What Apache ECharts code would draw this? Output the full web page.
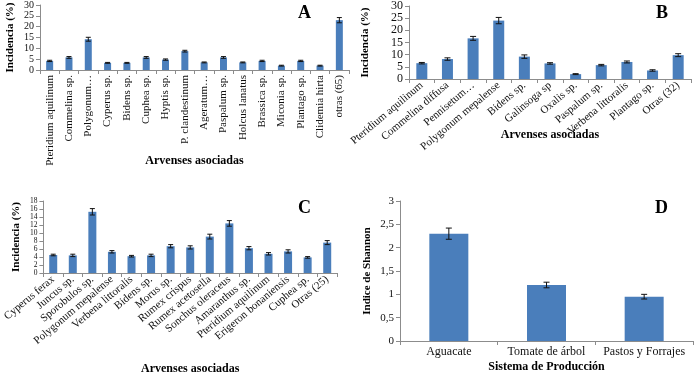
<!DOCTYPE html>
<html>
<head>
<meta charset="utf-8">
<script src="https://cdn.jsdelivr.net/npm/echarts@6/dist/echarts.min.js"></script>
<style>
  html, body { margin: 0; padding: 0; background: #fff; }
  #chart { width: 700px; height: 377px; }
</style>
</head>
<body>
<div id="chart"></div>
<script>
// Panel A
const catsA = ['Pteridium aquilinum', 'Commelina sp.', 'Polygonum…', 'Cyperus sp.', 'Bidens sp.', 'Cuphea sp.',
  'Hyptis sp.', 'P. clandestinum', 'Ageratum…', 'Paspalum sp.', 'Holcus lanatus', 'Brassica sp.',
  'Miconia sp.', 'Plantago sp.', 'Clidemia hirta', 'otras (65)']
const valsA = [4.2, 5.8, 14.2, 3.3, 3.3, 5.8, 4.8, 8.7, 3.5, 5.8, 3.5, 4.2, 2.0, 4.2, 2.0, 23.0]
const errA = [0.3, 0.4, 0.9, 0.2, 0.2, 0.4, 0.3, 0.4, 0.2, 0.4, 0.2, 0.3, 0.2, 0.3, 0.2, 1.2]

// Panel B
const catsB = ['Pteridium aquilinum', 'Commelina diffusa', 'Pennisetum…', 'Polygonum mepalense', 'Bidens sp.',
  'Galinsoga sp', 'Oxalis sp.', 'Paspalum sp.', 'Verbena littoralis', 'Plantago sp.', 'Otras (32)']
const valsB = [6.5, 8.2, 16.7, 24.0, 9.2, 6.4, 2.0, 5.7, 7.0, 3.5, 9.8]
const errB = [0.3, 0.5, 0.8, 1.3, 0.7, 0.3, 0.2, 0.3, 0.4, 0.3, 0.6]

// Panel C
const catsC = ['Cyperus ferax', 'Juncus sp.', 'Sporobulos sp.', 'Polygonum mepalense', 'Verbena littoralis',
  'Bidens sp.', 'Morus sp.', 'Rumex crispus', 'Rumex acetosella', 'Sonchus oleraceus', 'Amaranthus sp.',
  'Pteridium aquilinum', 'Erigeron bonaniensis', 'Cuphea sp.', 'Otras (25)']
const valsC = [4.5, 4.4, 15.3, 5.3, 4.2, 4.4, 6.7, 6.4, 9.1, 12.4, 6.2, 4.8, 5.4, 3.9, 7.6]
const errC = [0.2, 0.3, 0.8, 0.3, 0.2, 0.3, 0.4, 0.4, 0.6, 0.7, 0.4, 0.3, 0.4, 0.2, 0.5]

// Panel D
const catsD = ['Aguacate', 'Tomate de árbol', 'Pastos y Forrajes']
const valsD = [2.3, 1.2, 0.95]
const errD = [0.12, 0.06, 0.05]

const serif = 'Liberation Serif'
const barColor = '#4a7ebb'
const axisColor = '#8c8c8c'

const chart = echarts.init(document.getElementById('chart'))

const grids = [
  { left: 40, top: 5, width: 309, height: 65 },
  { left: 409, top: 5, width: 282, height: 74 },
  { left: 40, top: 201, width: 297, height: 72 },
  { left: 400, top: 201, width: 293, height: 140 }
]

function xAxisFor(idx, cats, rotate, nameGap, fontSize) {
  return {
    type: 'category',
    gridIndex: idx,
    data: cats,
    name: idx === 3 ? 'Sistema de Producción' : 'Arvenses asociadas',
    nameLocation: 'middle',
    nameGap: nameGap,
    nameMoveOverlap: false,
    nameTextStyle: { fontFamily: serif, fontWeight: 'bold', fontSize: 12, color: '#000' },
    axisLine: { lineStyle: { color: axisColor } },
    axisTick: { show: true, length: 4, lineStyle: { color: axisColor } },
    axisLabel: {
      interval: 0, rotate: rotate, margin: 5,
      fontFamily: serif, fontSize: fontSize, color: '#111'
    }
  }
}

function yAxisFor(idx, max, interval, nameGap, name, labelSize, comma) {
  return {
    type: 'value',
    gridIndex: idx,
    min: 0, max: max, interval: interval,
    name: name,
    nameLocation: 'middle',
    nameRotate: 90,
    nameGap: nameGap,
    nameMoveOverlap: false,
    nameTextStyle: { fontFamily: serif, fontWeight: 'bold', fontSize: 11, color: '#000' },
    splitLine: { show: false },
    axisLine: { show: true, lineStyle: { color: axisColor } },
    axisTick: { show: true, length: 4, lineStyle: { color: axisColor } },
    axisLabel: {
      margin: 6,
      fontFamily: serif, fontSize: labelSize, color: '#111',
      showMinLabel: true, showMaxLabel: true,
      formatter: v => (comma ? String(v).replace('.', ',') : String(v))
    }
  }
}

function barSeries(idx, vals, width) {
  return {
    type: 'bar',
    xAxisIndex: idx, yAxisIndex: idx,
    data: vals,
    barWidth: width,
    itemStyle: { color: barColor }
  }
}

function errSeries(idx, vals, errs, cap) {
  return {
    type: 'custom',
    xAxisIndex: idx, yAxisIndex: idx,
    data: vals.map((v, i) => [i, v - errs[i], v + errs[i]]),
    z: 5,
    renderItem: function (params, api) {
      const lo = api.coord([api.value(0), api.value(1)])
      const hi = api.coord([api.value(0), api.value(2)])
      const x = lo[0]
      const style = { stroke: '#111', lineWidth: 1 }
      return {
        type: 'group',
        children: [
          { type: 'line', shape: { x1: x, y1: lo[1], x2: x, y2: hi[1] }, style: style },
          { type: 'line', shape: { x1: x - cap, y1: lo[1], x2: x + cap, y2: lo[1] }, style: style },
          { type: 'line', shape: { x1: x - cap, y1: hi[1], x2: x + cap, y2: hi[1] }, style: style }
        ]
      }
    }
  }
}

const letter = (txt, x, y) => ({
  type: 'text', left: x, top: y,
  style: { text: txt, fontFamily: serif, fontWeight: 'bold', fontSize: 18, fill: '#000' }
})

const option = {
  animation: false,
  backgroundColor: '#fff',
  grid: grids,
  xAxis: [
    xAxisFor(0, catsA, 90, 85, 11),
    xAxisFor(1, catsB, 40, 50, 11),
    xAxisFor(2, catsC, 40, 90, 11),
    xAxisFor(3, catsD, 0, 20, 12)
  ],
  yAxis: [
    yAxisFor(0, 30, 5, 24, 'Incidencia (%)', 10),
    yAxisFor(1, 30, 5, 38, 'Incidencia (%)', 12),
    yAxisFor(2, 18, 2, 22, 'Incidencia (%)', 7.5),
    yAxisFor(3, 3, 0.5, 27, 'Indice de Shannon', 11, true)
  ],
  series: [
    barSeries(0, valsA, 7), errSeries(0, valsA, errA, 2.5),
    barSeries(1, valsB, 11), errSeries(1, valsB, errB, 3),
    barSeries(2, valsC, 8), errSeries(2, valsC, errC, 2.5),
    barSeries(3, valsD, 39), errSeries(3, valsD, errD, 3)
  ],
  graphic: [
    letter('A', 298, 4),
    letter('B', 656, 4),
    letter('C', 298, 199),
    letter('D', 655, 199)
  ]
}

chart.setOption(option)
</script>
</body>
</html>
